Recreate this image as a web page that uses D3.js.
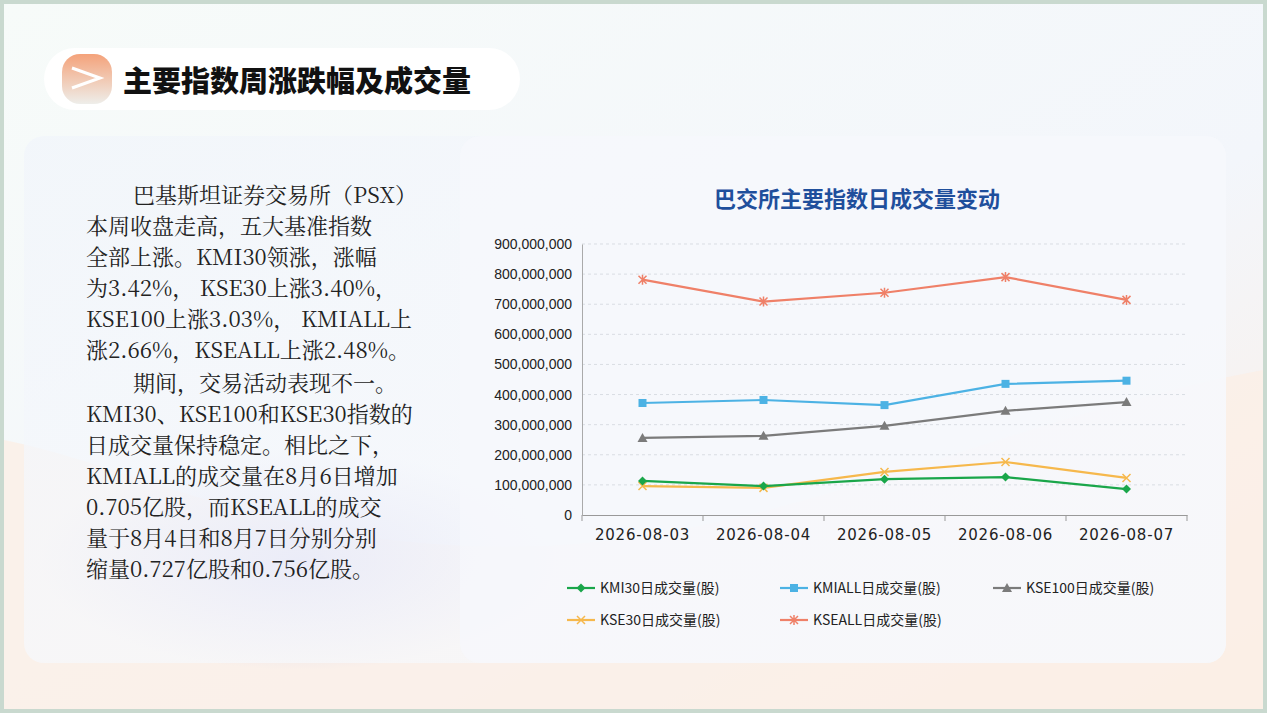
<!DOCTYPE html>
<html><head><meta charset="utf-8">
<script src="https://cdn.jsdelivr.net/npm/d3@7"></script>
<style>body{margin:0;background:#fff;font-family:"Noto Sans CJK SC",sans-serif}</style>
</head><body><svg id="c" width="1267" height="713"></svg>
<script>
const categories=["2026-08-03","2026-08-04","2026-08-05","2026-08-06","2026-08-07"];
const seriesNames=["KMI30日成交量(股)","KMIALL日成交量(股)","KSE100日成交量(股)","KSE30日成交量(股)","KSEALL日成交量(股)"];
const kmi30=[113000000,96000000,119000000,126000000,86000000];
const kmiall=[372000000,382000000,365000000,435500000,446000000];
const kse100=[256000000,263000000,296000000,346000000,375000000];
const kse30=[96000000,90000000,143000000,176000000,123000000];
const kseall=[781500000,708800000,738000000,790000000,714400000];
const yTicks=[0,100000000,200000000,300000000,400000000,500000000,600000000,700000000,800000000,900000000];
const colors=["#1aa64a","#4cb2e4","#7b7b7b","#f6b84c","#ef8068"];
const markers=["diamond","square","triangle","x","star"];
const series=[kmi30,kmiall,kse100,kse30,kseall];
const para1=["巴基斯坦证券交易所（PSX）","本周收盘走高，五大基准指数","全部上涨。KMI30领涨，涨幅","为3.42%， KSE30上涨3.40%，","KSE100上涨3.03%， KMIALL上","涨2.66%，KSEALL上涨2.48%。"];
const para2=["期间，交易活动表现不一。","KMI30、KSE100和KSE30指数的","日成交量保持稳定。相比之下，","KMIALL的成交量在8月6日增加","0.705亿股，而KSEALL的成交","量于8月4日和8月7日分别分别","缩量0.727亿股和0.756亿股。"];

const svg=d3.select("#c");
const defs=svg.append("defs");
const g1=defs.append("linearGradient").attr("id","bg").attr("x1",0).attr("y1",0).attr("x2",1).attr("y2",1);
g1.append("stop").attr("offset",0).attr("stop-color","#f7fbf9");
g1.append("stop").attr("offset",0.6).attr("stop-color","#f3f6fb");
g1.append("stop").attr("offset",1).attr("stop-color","#fbeee4");
const g2=defs.append("linearGradient").attr("id","pn").attr("x1",0).attr("y1",0).attr("x2",1).attr("y2",1);
g2.append("stop").attr("offset",0).attr("stop-color","#f1f5fb");
g2.append("stop").attr("offset",0.5).attr("stop-color","#f6f8fc");
g2.append("stop").attr("offset",1).attr("stop-color","#f7f9fb");
const g3=defs.append("radialGradient").attr("id","blob").attr("cx",0.5).attr("cy",0.5).attr("r",0.5);
g3.append("stop").attr("offset",0).attr("stop-color","#c9c8ec");
g3.append("stop").attr("offset",1).attr("stop-color","#c9c8ec").attr("stop-opacity",0);
const g4=defs.append("linearGradient").attr("id","ic").attr("x1",0).attr("y1",0).attr("x2",0).attr("y2",1);
g4.append("stop").attr("offset",0).attr("stop-color","#f4a27a");
g4.append("stop").attr("offset",1).attr("stop-color","#eeeeea");

svg.append("rect").attr("width",1267).attr("height",713).attr("fill","#c9d9cf");
svg.append("rect").attr("x",4).attr("y",4).attr("width",1259).attr("height",705).attr("fill","url(#bg)");
svg.append("path").attr("d","M4,440 C150,470 300,560 560,545 C800,530 1000,420 1263,370 L1263,709 L4,709Z").attr("fill","#fbefe6").attr("opacity",0.8);
svg.append("ellipse").attr("cx",300).attr("cy",560).attr("rx",260).attr("ry",110).attr("fill","url(#blob)");
svg.append("rect").attr("x",24).attr("y",136).attr("width",1202).attr("height",527).attr("rx",20).attr("fill","url(#pn)").attr("opacity",0.75);
svg.append("rect").attr("x",460).attr("y",136).attr("width",766).attr("height",527).attr("rx",20).attr("fill","#f6f8fc").attr("opacity",0.7);

// title pill
svg.append("rect").attr("x",44).attr("y",48).attr("width",476).attr("height",62).attr("rx",31).attr("fill","#fff").attr("opacity",0.95);
svg.append("rect").attr("x",62).attr("y",54).attr("width",50).attr("height",50).attr("rx",18).attr("fill","url(#ic)");
svg.append("path").attr("d","M72,68 L100,78 L72,88").attr("fill","none").attr("stroke","#fff").attr("stroke-width",3);
svg.append("text").attr("x",123).attr("y",92).attr("font-size",29).attr("font-weight",900).attr("fill","#111").text("主要指数周涨跌幅及成交量");

// paragraphs
const tf='"Noto Serif CJK SC","Noto Sans CJK SC",serif';
para1.forEach((t,i)=>svg.append("text").attr("x",i==0?133:86).attr("y",203+i*31).attr("font-size",22).attr("fill","#222").attr("font-family",tf).text(t));
para2.forEach((t,i)=>svg.append("text").attr("x",i==0?133:86).attr("y",391+i*31).attr("font-size",22).attr("fill","#222").attr("font-family",tf).text(t));

// chart
svg.append("text").attr("x",857).attr("y",207).attr("text-anchor","middle").attr("font-size",22).attr("font-weight",700).attr("fill","#1f4f9c").text("巴交所主要指数日成交量变动");

const x=d3.scaleBand().domain(categories).range([582,1187]);
const y=d3.scaleLinear().domain([0,900000000]).range([515,244]);
const fmt=d3.format(",");
const grid=svg.append("g");
yTicks.slice(1).forEach(v=>grid.append("line").attr("x1",582).attr("x2",1187).attr("y1",y(v)).attr("y2",y(v)).attr("stroke","#d9dde3").attr("stroke-dasharray","3,3"));
const ya=svg.append("g").attr("transform","translate(582,0)").call(d3.axisLeft(y).tickValues(yTicks).tickFormat(fmt).tickSize(0).tickPadding(10));
ya.select(".domain").attr("stroke","#aaa");
ya.selectAll("text").attr("font-size",14).attr("fill","#222").attr("font-family","Liberation Sans,Arial,sans-serif");
const xa=svg.append("g").attr("transform","translate(0,515)").call(d3.axisBottom(x).tickSize(0).tickPadding(14));
xa.select(".domain").attr("stroke","#999");
xa.selectAll("text").attr("font-size",15).attr("fill","#222").attr("letter-spacing","0.8px").attr("font-family","DejaVu Sans,sans-serif");
categories.concat([null]).forEach((c,i)=>{const px=582+i*x.step();svg.append("line").attr("x1",px).attr("x2",px).attr("y1",515).attr("y2",521).attr("stroke","#999");});

function drawMarker(g,type,cx,cy,col){
  if(type==="diamond") g.append("path").attr("d",`M${cx},${cy-4.5}L${cx+4.5},${cy}L${cx},${cy+4.5}L${cx-4.5},${cy}Z`).attr("fill",col);
  else if(type==="square") g.append("rect").attr("x",cx-4).attr("y",cy-4).attr("width",8).attr("height",8).attr("fill",col);
  else if(type==="triangle") g.append("path").attr("d",`M${cx},${cy-5}L${cx+5},${cy+4}L${cx-5},${cy+4}Z`).attr("fill",col);
  else if(type==="x") g.append("path").attr("d",`M${cx-4},${cy-4}L${cx+4},${cy+4}M${cx-4},${cy+4}L${cx+4},${cy-4}`).attr("stroke",col).attr("stroke-width",1.5);
  else g.append("path").attr("d",`M${cx-4},${cy-4}L${cx+4},${cy+4}M${cx-4},${cy+4}L${cx+4},${cy-4}M${cx},${cy-5}L${cx},${cy+5}`).attr("stroke",col).attr("stroke-width",1.5);
}
const line=d3.line().x((d,i)=>x(categories[i])+x.bandwidth()/2).y(d=>y(d));
const order=[4,1,2,3,0];
order.forEach(k=>{
  const g=svg.append("g");
  g.append("path").datum(series[k]).attr("d",line).attr("fill","none").attr("stroke",colors[k]).attr("stroke-width",2.2);
  series[k].forEach((v,i)=>drawMarker(g,markers[k],x(categories[i])+x.bandwidth()/2,y(v),colors[k]));
});

// legend
const lpos=[[567,588],[780,588],[993,588],[567,620],[780,620]];
seriesNames.forEach((n,k)=>{
  const [lx,ly]=lpos[k];const g=svg.append("g");
  g.append("line").attr("x1",lx).attr("x2",lx+28).attr("y1",ly).attr("y2",ly).attr("stroke",colors[k]).attr("stroke-width",2.2);
  drawMarker(g,markers[k],lx+14,ly,colors[k]);
  g.append("text").attr("x",lx+33).attr("y",ly+5).attr("font-size",14).attr("fill","#222").text(n);
});
</script></body></html>
